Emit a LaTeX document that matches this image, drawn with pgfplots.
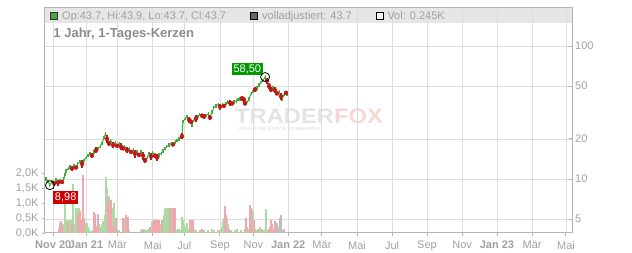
\documentclass[border=0pt]{standalone}
\usepackage{pgfplots}
\pgfplotsset{compat=1.18}
\usepackage{fontspec}
\setmainfont{Liberation Sans}
\usepackage{graphicx}
\definecolor{gridc}{HTML}{DDDDDD}
\definecolor{axc}{HTML}{B4B4B4}
\definecolor{tickc}{HTML}{A0A0A0}
\definecolor{candg}{HTML}{42AD3A}
\definecolor{candr}{HTML}{BE1A1A}
\definecolor{volg}{HTML}{A9DBA3}
\definecolor{volr}{HTML}{F0A8B0}
\definecolor{volgr}{HTML}{BDBDBD}
\definecolor{bandc}{HTML}{E6E6E6}
\definecolor{labg}{HTML}{009A00}
\definecolor{labr}{HTML}{CC0000}
\definecolor{hdr}{HTML}{8C8C8C}
\definecolor{wmg}{HTML}{E3E3E3}
\definecolor{wmr}{HTML}{F7D6D6}

\begin{document}
\begin{tikzpicture}[font=\fontsize{11bp}{13bp}\selectfont]
\path[use as bounding box] (-45bp,-20bp) rectangle (587bp,233bp);
\fill[bandc] (0bp,210bp) rectangle (527bp,225bp);
% watermark
\node[anchor=base west, inner sep=0pt, text=wmg] at (190bp,109.7bp) {\scalebox{1.13}[1]{\fontsize{21bp}{21bp}\selectfont\bfseries TRADER\textcolor{wmr}{FOX}}};
\node[anchor=base west, inner sep=0pt, text=wmg] at (194bp,102bp) {\scalebox{1.2}[1]{\fontsize{4.5bp}{5bp}\selectfont\bfseries REALTIME STOCK SCREENING}};

% price grid axis
\begin{axis}[ymode=log,
  width=527bp, height=225bp, scale only axis, at={(0bp,0bp)}, anchor=south west,
  xmin=-0.116, xmax=30.38, ymin=3.925, ymax=193.5,
  axis line style={axc, line width=1bp},
  grid=major, major grid style={gridc, line width=0.9bp},
  xtick={0.36,2.26,4.07,6.12,7.95,10.01,11.94,13.96,15.91,17.94,19.97,21.99,24.02,26.04,28.07,30.03},
  xticklabels={\textbf{Nov 20},\textbf{Jan 21},Mär,Mai,Jul,Sep,Nov,\textbf{Jan 22},Mär,Mai,Jul,Sep,Nov,\textbf{Jan 23},Mär,Mai},
  xtick pos=bottom, xtick align=outside,
  ytick={5,10,20,50,100}, yticklabels={5,10,20,50,100},
  ytick pos=right, yticklabel pos=right, ytick align=inside,
  major tick length=3bp, tick style={axc, line width=1bp},
  ticklabel style={text=tickc, font=\fontsize{11bp}{13bp}\selectfont},
  xticklabel style={anchor=north, inner sep=0pt, yshift=-5bp},
  yticklabel style={anchor=west, inner sep=0pt, xshift=3bp},
]
\end{axis}

% volume axis
\begin{axis}[
  width=527bp, height=225bp, scale only axis, at={(0bp,0bp)}, anchor=south west,
  xmin=-0.116, xmax=30.38, ymin=0, ymax=7.5,
  axis x line=none, axis y line*=left,
  axis line style={axc, line width=1bp},
  ytick={0,0.5,1,1.5,2}, yticklabels={{0,0K},{0,5K},{1,0K},{1,5K},{2,0K}},
  ytick align=outside, major tick length=3bp, tick style={axc, line width=1bp},
  yticklabel style={text=tickc, anchor=east, inner sep=0pt, xshift=-3.3bp, font=\fontsize{11bp}{13bp}\selectfont},
]
\addplot[ycomb, volg, line width=1.3bp] coordinates {
(0.93,0.3) (1.04,1.0) (1.10,0.3) (1.16,0.45) (1.27,0.1) (1.33,0.45) (1.39,0.45) (1.50,1.65) (1.56,0.2) (1.62,0.3) (1.68,0.85) (1.74,0.85) (1.85,0.85) (1.97,0.3) (2.20,0.35) (2.26,0.35) (2.31,0.35) (2.37,0.2) (2.43,0.15) (2.55,0.08) (2.66,0.1) (2.84,0.2) (3.01,0.3) (3.07,0.2) (3.18,0.3) (3.24,0.4) (3.30,0.35) (3.36,0.6) (3.41,1.87) (3.47,1.5) (3.59,1.2) (3.76,0.85) (3.88,1.0) (3.94,0.15) (4.05,0.15) (4.17,0.1) (4.46,0.5) (4.51,0.5) (4.63,0.1) (4.75,0.1) (5.44,0.1) (5.50,0.15) (5.61,0.15) (5.73,0.1) (5.84,0.12) (6.02,0.15) (6.08,0.4) (6.31,0.4) (6.42,0.3) (6.54,0.3) (6.60,0.15) (6.71,0.45) (6.77,0.6) (6.83,0.85) (6.89,0.85) (6.94,0.85) (7.00,0.85) (7.06,0.85) (7.18,0.85) (7.23,0.85) (7.35,0.85) (7.47,0.1) (7.52,0.1) (7.58,0.15) (7.64,0.12) (7.70,0.1) (7.81,0.55) (7.87,0.45) (7.93,0.3) (7.99,0.15) (8.04,0.2) (8.10,0.35) (8.16,0.1) (8.22,0.15) (8.51,0.15) (8.62,0.1) (8.74,0.05) (9.09,0.1) (9.20,0.05) (9.43,0.05) (9.55,0.15) (9.66,0.1) (9.78,0.05) (10.01,0.1) (10.13,0.2) (10.19,0.4) (10.24,0.5) (10.42,0.5) (10.47,0.3) (10.65,0.1) (10.76,0.05) (10.88,0.1) (11.00,0.15) (11.23,0.1) (11.34,0.05) (11.57,0.2) (11.69,0.15) (11.86,0.8) (11.92,0.7) (12.10,0.1) (12.21,0.15) (12.33,0.2) (12.56,0.1) (12.67,0.8) (12.73,0.1) (13.08,0.15) (13.37,0.2) (13.60,0.1) (13.83,0.05)
};
\addplot[ycomb, volr, line width=1.3bp] coordinates {
(0.69,0.15) (0.75,0.35) (0.81,0.4) (0.87,0.25) (1.22,0.4) (1.45,0.3) (1.79,0.6) (1.91,0.75) (2.03,0.45) (2.08,1.95) (2.14,0.5) (2.72,0.7) (2.78,0.65) (2.89,0.25) (2.95,0.65) (3.53,1.25) (3.65,0.9) (3.70,1.1) (3.82,0.25) (3.99,0.5) (4.40,0.5) (4.57,0.6) (4.69,0.55) (5.56,0.1) (5.96,0.2) (6.13,0.35) (6.19,0.45) (6.25,0.45) (6.37,0.45) (6.48,0.45) (6.66,0.45) (7.12,0.85) (7.29,0.85) (7.41,0.85) (8.28,0.45) (8.33,0.45) (8.39,0.45) (8.45,0.45) (8.85,0.1) (8.97,0.15) (9.32,0.1) (9.90,0.1) (10.30,0.9) (10.36,0.6) (10.53,0.15) (11.11,0.05) (11.46,0.15) (11.52,0.5) (11.75,0.95) (11.81,0.85) (11.98,0.45) (12.04,0.15) (12.44,0.15) (12.85,0.15) (12.91,0.2) (12.96,0.45) (13.02,0.3) (13.14,0.1) (13.19,0.4) (13.25,0.1) (13.72,0.15)
};
\addplot[ycomb, volgr, line width=1.3bp] coordinates {(13.31,0.35) (13.48,0.5) (13.54,0.6)};
\end{axis}

% candles
\begin{axis}[ymode=log, hide axis, clip=false,
  width=527bp, height=225bp, scale only axis, at={(0bp,0bp)}, anchor=south west,
  xmin=-0.116, xmax=30.38, ymin=3.925, ymax=193.5]
\addplot[candg, line width=1bp, error bars/.cd, y dir=both, y fixed relative=0.03, error mark=none, error bar style={candg, line width=1.1bp}] coordinates {
(-0.06,10.0) (0.06,9.6) (0.17,9.0) (0.29,9.6) (0.41,9.3) (0.52,9.8) (0.64,9.4) (0.75,9.7) (0.87,9.5) (0.98,10.0) (1.04,10.8) (1.10,11.5) (1.22,12.0) (1.33,12.3) (1.45,12.0) (1.56,12.6) (1.68,12.2) (1.79,13.0) (1.91,13.5) (2.03,13.0) (2.14,13.8) (2.26,14.5) (2.37,15.0) (2.49,15.5) (2.60,15.0) (2.72,16.0) (2.84,16.5) (2.95,17.0) (3.07,17.5) (3.18,18.5) (3.30,20.5) (3.39,22.0) (3.47,20.0) (3.59,18.5) (3.70,19.5) (3.82,18.0) (3.94,18.8) (4.05,17.8) (4.17,18.5) (4.28,17.5) (4.40,17.0) (4.51,17.5) (4.63,16.5) (4.75,17.0) (4.86,16.0) (4.98,16.5) (5.09,15.5) (5.21,16.0) (5.32,15.2) (5.44,16.0) (5.56,15.0) (5.67,13.8) (5.79,14.5) (5.90,15.5) (6.02,14.8) (6.13,15.8) (6.25,15.0) (6.37,14.5) (6.48,15.2) (6.60,15.6) (6.71,16.3) (6.83,17.0) (6.94,17.5) (7.06,18.0) (7.18,18.5) (7.29,18.2) (7.41,19.0) (7.52,19.5) (7.64,20.0) (7.75,20.5) (7.81,21.0) (7.87,27.0) (7.99,28.5) (8.10,29.5) (8.22,28.0) (8.33,27.0) (8.39,25.5) (8.51,28.0) (8.62,28.5) (8.74,29.5) (8.85,30.5) (8.97,30.0) (9.09,29.5) (9.20,30.0) (9.32,30.8) (9.43,29.0) (9.55,32.0) (9.66,34.5) (9.78,35.5) (9.90,36.5) (10.01,35.0) (10.13,36.0) (10.24,35.5) (10.36,37.0) (10.47,38.0) (10.59,37.5) (10.71,37.0) (10.82,38.0) (10.94,38.5) (11.05,39.5) (11.17,40.0) (11.28,40.5) (11.40,39.5) (11.46,37.0) (11.57,37.5) (11.69,40.0) (11.81,44.0) (11.92,45.5) (12.04,47.0) (12.15,48.5) (12.27,51.0) (12.38,53.0) (12.50,55.0) (12.62,58.5) (12.73,55.0) (12.85,50.0) (12.96,47.0) (13.08,48.5) (13.19,46.5) (13.31,44.0) (13.43,45.5) (13.54,42.0) (13.60,39.5) (13.72,43.5) (13.83,44.5) (13.89,43.7)
};
\addplot[candr, only marks, mark=none, error bars/.cd, y dir=both, y explicit, error mark=none, error bar style={candr, line width=1.2bp}] coordinates {
(0.41,9.3) +- (0,0.4)
(0.64,9.4) +- (0,0.5)
(0.87,9.5) +- (0,0.3)
(1.45,12.0) +- (0,0.6)
(1.68,12.2) +- (0,0.4)
(2.03,13.0) +- (0,0.8)
(2.60,15.0) +- (0,0.6)
(2.84,16.5) +- (0,0.9)
(3.47,20.0) +- (0,1.4)
(3.59,18.5) +- (0,0.8)
(3.82,18.0) +- (0,1.0)
(4.05,17.8) +- (0,0.6)
(4.28,17.5) +- (0,1.0)
(4.40,17.0) +- (0,0.5)
(4.63,16.5) +- (0,0.9)
(4.86,16.0) +- (0,0.6)
(5.09,15.5) +- (0,1.0)
(5.32,15.2) +- (0,0.5)
(5.56,15.0) +- (0,1.1)
(5.67,13.8) +- (0,0.6)
(6.02,14.8) +- (0,0.8)
(6.25,15.0) +- (0,0.5)
(6.37,14.5) +- (0,0.9)
(7.29,18.2) +- (0,0.6)
(7.81,21.0) +- (0,1.0)
(8.22,28.0) +- (0,1.5)
(8.33,27.0) +- (0,1.0)
(8.62,28.5) +- (0,1.6)
(8.97,30.0) +- (0,1.0)
(9.09,29.5) +- (0,1.4)
(9.43,29.0) +- (0,1.2)
(10.01,35.0) +- (0,1.8)
(10.24,35.5) +- (0,1.2)
(10.59,37.5) +- (0,2.0)
(10.71,37.0) +- (0,1.0)
(11.28,40.5) +- (0,1.6)
(11.40,39.5) +- (0,2.2)
(11.46,37.0) +- (0,1.2)
(12.04,47.0) +- (0,2.0)
(12.73,55.0) +- (0,3.0)
(12.85,50.0) +- (0,2.5)
(12.96,47.0) +- (0,2.0)
(13.19,46.5) +- (0,2.4)
(13.31,44.0) +- (0,1.5)
(13.54,42.0) +- (0,2.5)
(13.83,44.5) +- (0,1.8)
};
\addplot[only marks, mark=o, mark size=4.5bp, mark options={black, line width=0.8bp}] coordinates {(12.62,58.5) (0.17,8.98)};
\node[fill=labg, text=white, inner xsep=1.8bp, inner ysep=1.5bp, text height=8bp, text depth=1.5bp] at (axis cs:11.59,67.4) {58,50};
\node[fill=labr, text=white, inner xsep=1.8bp, inner ysep=1.5bp, text height=8bp, text depth=1.5bp] at (axis cs:1.08,7.28) {8,98};
\end{axis}

% header
\node[draw=black!80, fill=candg, minimum size=7bp, inner sep=0pt, line width=0.6bp] at (8.5bp,217.5bp) {};
\node[anchor=base west, inner sep=0pt, text=tickc] at (17bp,213.7bp) {Op:43.7, Hi:43.9, Lo:43.7, Cl:43.7};
\node[draw=black, fill=black!60, minimum size=7bp, inner sep=0pt, line width=0.6bp] at (209.2bp,217.5bp) {};
\node[anchor=base west, inner sep=0pt, text=tickc] at (217bp,213.7bp) {volladjustiert: 43.7};
\node[draw=black, fill=white, minimum size=7bp, inner sep=0pt, line width=0.6bp] at (334.5bp,217.5bp) {};
\node[anchor=base west, inner sep=0pt, text=tickc] at (342.3bp,213.7bp) {Vol: 0.245K};
\node[anchor=base west, inner sep=0pt, text=hdr, font=\fontsize{13bp}{15bp}\selectfont\bfseries] at (8.3bp,195.3bp) {1 Jahr, 1-Tages-Kerzen};
\end{tikzpicture}
\end{document}
